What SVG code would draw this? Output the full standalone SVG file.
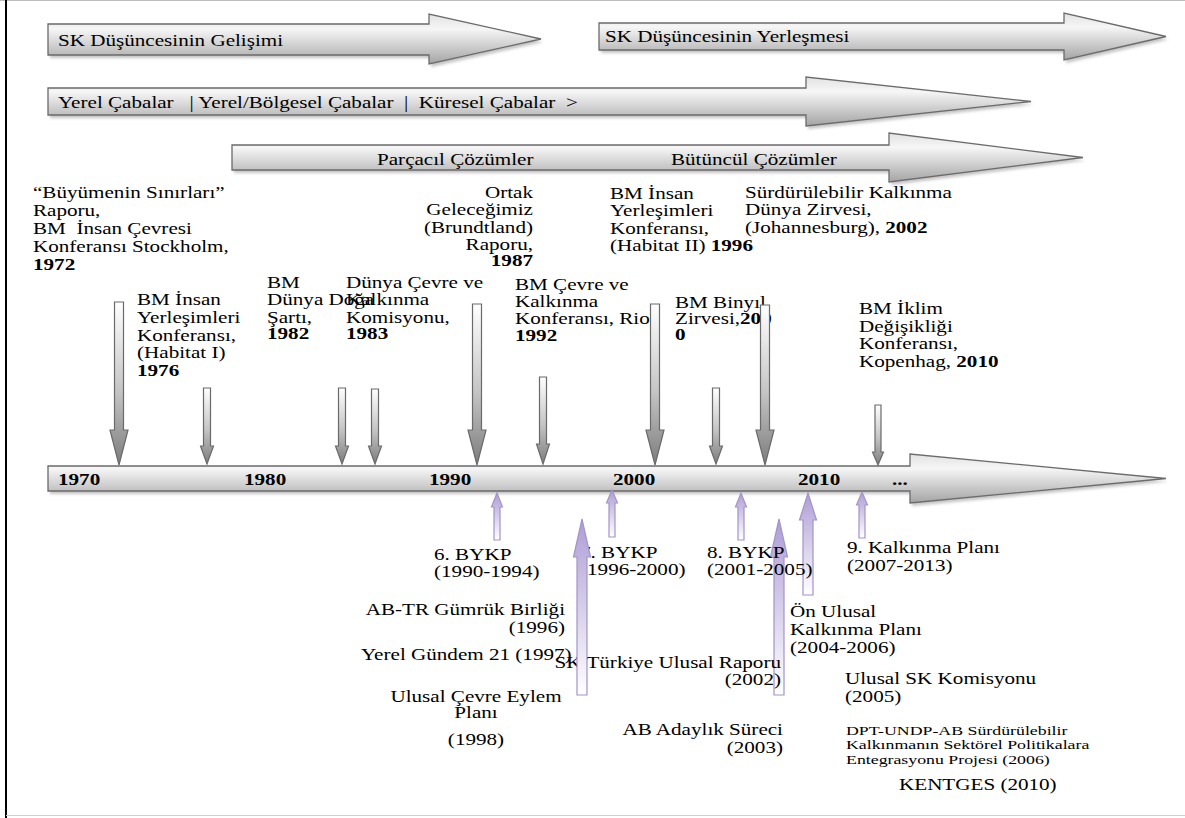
<svg xmlns="http://www.w3.org/2000/svg" width="1185" height="818" viewBox="0 0 1185 818">
<style>
.t{font-family:"Liberation Serif","Times New Roman",serif;font-size:16px;fill:#000}
.s{font-size:13.5px}
.b{font-weight:bold}
.band{fill:url(#gBand);stroke:#6b6b6b;stroke-width:1.3}
.shadow{fill:#7a7a7a;opacity:.45;filter:url(#blur)}
.down{fill:url(#gDown);stroke:#6a6a6a;stroke-width:1.2}
.up{fill:url(#gUp);stroke:#a394c8;stroke-width:1.2}
</style>
<defs>
<linearGradient id="gBand" x1="0" y1="0" x2="0" y2="1">
<stop offset="0" stop-color="#e2e2e2"/><stop offset="0.3" stop-color="#f6f6f6"/><stop offset="1" stop-color="#a4a4a4"/>
</linearGradient>
<linearGradient id="gDown" x1="0" y1="0" x2="0" y2="1">
<stop offset="0" stop-color="#ffffff"/><stop offset="0.55" stop-color="#c4c4c4"/><stop offset="1" stop-color="#7c7c7c"/>
</linearGradient>
<linearGradient id="gUp" x1="0" y1="0" x2="0" y2="1">
<stop offset="0" stop-color="#ae9dd5"/><stop offset="1" stop-color="#ffffff"/>
</linearGradient>
<filter id="blur" x="-5%" y="-30%" width="110%" height="160%"><feGaussianBlur stdDeviation="1.5"/></filter>
</defs>
<rect width="1185" height="818" fill="#fff"/>
<g id="frame">
<line x1="0" y1="0.5" x2="1185" y2="0.5" stroke="#bdbdbd" stroke-width="1"/>
<line x1="6" y1="0" x2="6" y2="818" stroke="#000" stroke-width="2"/>
<line x1="6" y1="815.5" x2="1185" y2="815.5" stroke="#d0d0d0" stroke-width="1"/>
</g>
<g id="band-gelisim">
<polygon class="shadow" transform="translate(2,3)" points="48,24 429,24 429,14 541,39 429,64 429,55 48,55"/>
<polygon class="band" points="48,24 429,24 429,14 541,39 429,64 429,55 48,55"/>
<text class="t" transform="translate(58,46) scale(1.32,1)">SK Düşüncesinin Gelişimi</text>
</g>
<g id="band-yerlesme">
<polygon class="shadow" transform="translate(2,3)" points="599,23 1064,23 1064,13 1166,36.5 1064,60 1064,50 599,50"/>
<polygon class="band" points="599,23 1064,23 1064,13 1166,36.5 1064,60 1064,50 599,50"/>
<text class="t" transform="translate(605,42) scale(1.32,1)">SK Düşüncesinin Yerleşmesi</text>
</g>
<g id="band-cabalar">
<polygon class="shadow" transform="translate(2,3)" points="48,88 806,88 806,77 1031,101.5 806,126 806,115 48,115"/>
<polygon class="band" points="48,88 806,88 806,77 1031,101.5 806,126 806,115 48,115"/>
<text class="t" xml:space="preserve" transform="translate(58,108) scale(1.32,1)">Yerel Çabalar   | Yerel/Bölgesel Çabalar  |  Küresel Çabalar  &gt;</text>
</g>
<g id="band-cozumler">
<polygon class="shadow" transform="translate(2,3)" points="232,145 889,145 889,133 1083,157.5 889,182 889,170 232,170"/>
<polygon class="band" points="232,145 889,145 889,133 1083,157.5 889,182 889,170 232,170"/>
<text class="t" transform="translate(377,165) scale(1.32,1)">Parçacıl Çözümler</text>
<text class="t" transform="translate(671,165) scale(1.32,1)">Bütüncül Çözümler</text>
</g>
<g id="timeline">
<polygon class="shadow" transform="translate(2,3)" points="48,466 910,466 910,454 1166,478.5 910,503 910,491 48,491"/>
<polygon class="band" points="48,466 910,466 910,454 1166,478.5 910,503 910,491 48,491"/>
<g class="t b">
<text transform="translate(58,485) scale(1.32,1)">1970</text>
<text transform="translate(244,485) scale(1.32,1)">1980</text>
<text transform="translate(429,485) scale(1.32,1)">1990</text>
<text transform="translate(613,485) scale(1.32,1)">2000</text>
<text transform="translate(798,485) scale(1.32,1)">2010</text>
<text transform="translate(892,485) scale(1.32,1)">...</text>
</g>
</g>
<g id="connectors-under">
<polygon class="up" points="779,519 787.5,557 784,557 784,695 774,695 774,557 770.5,557"/>
<polygon class="up" points="808,493 816.5,520 813,520 813,595 803,595 803,520 799.5,520"/>
</g>
<g id="labels-world">
<text class="t" xml:space="preserve" transform="translate(33,198) scale(1.32,1)"><tspan x="0" y="0">“Büyümenin Sınırları”</tspan><tspan x="0" y="17.9">Raporu,</tspan><tspan x="0" y="35.8">BM  İnsan Çevresi</tspan><tspan x="0" y="53.7">Konferansı Stockholm,</tspan><tspan x="0" y="71.6" class="b">1972</tspan></text>
<text class="t" transform="translate(137,305) scale(1.32,1)"><tspan x="0" y="0">BM İnsan</tspan><tspan x="0" y="17.8">Yerleşimleri</tspan><tspan x="0" y="35.6">Konferansı,</tspan><tspan x="0" y="53.4">(Habitat I)</tspan><tspan x="0" y="71.2" class="b">1976</tspan></text>
<text class="t" transform="translate(267,288) scale(1.32,1)"><tspan x="0" y="0">BM</tspan><tspan x="0" y="17.5">Dünya Doğa</tspan><tspan x="0" y="35">Şartı,</tspan><tspan x="0" y="51.5" class="b">1982</tspan></text>
<text class="t" transform="translate(346,288) scale(1.32,1)"><tspan x="0" y="0">Dünya Çevre ve</tspan><tspan x="0" y="17.5">Kalkınma</tspan><tspan x="0" y="35">Komisyonu,</tspan><tspan x="0" y="51.5" class="b">1983</tspan></text>
<text class="t" text-anchor="end" transform="translate(533,198) scale(1.32,1)"><tspan x="0" y="0">Ortak</tspan><tspan x="0" y="17.5">Geleceğimiz</tspan><tspan x="0" y="35">(Brundtland)</tspan><tspan x="0" y="52.5">Raporu,</tspan><tspan x="0" y="68.5" class="b">1987</tspan></text>
<text class="t" transform="translate(610,199) scale(1.32,1)"><tspan x="0" y="0">BM İnsan</tspan><tspan x="0" y="17.3">Yerleşimleri</tspan><tspan x="0" y="34.6">Konferansı,</tspan><tspan x="0" y="51.9">(Habitat II) <tspan class="b">1996</tspan></tspan></text>
<text class="t" transform="translate(745,198) scale(1.32,1)"><tspan x="0" y="0">Sürdürülebilir Kalkınma</tspan><tspan x="0" y="17.5">Dünya Zirvesi,</tspan><tspan x="0" y="35">(Johannesburg), <tspan class="b">2002</tspan></tspan></text>
<text class="t" transform="translate(515,290) scale(1.32,1)"><tspan x="0" y="0">BM Çevre ve</tspan><tspan x="0" y="17">Kalkınma</tspan><tspan x="0" y="34">Konferansı, Rio,</tspan><tspan x="0" y="51" class="b">1992</tspan></text>
<text class="t" transform="translate(675,308) scale(1.32,1)"><tspan x="0" y="0">BM Binyıl</tspan><tspan x="0" y="16">Zirvesi,<tspan class="b">200</tspan></tspan><tspan x="0" y="32.5" class="b">0</tspan></text>
<text class="t" transform="translate(859,314) scale(1.32,1)"><tspan x="0" y="0">BM İklim</tspan><tspan x="0" y="17.6">Değişikliği</tspan><tspan x="0" y="35.2">Konferansı,</tspan><tspan x="0" y="52.8">Kopenhag, <tspan class="b">2010</tspan></tspan></text>
</g>
<g id="labels-turkey">
<text class="t" transform="translate(434,560) scale(1.32,1)"><tspan x="0" y="0">6. BYKP</tspan><tspan x="0" y="17">(1990-1994)</tspan></text>
<text class="t" transform="translate(580,558) scale(1.32,1)"><tspan x="0" y="0">7. BYKP</tspan><tspan x="0" y="17">(1996-2000)</tspan></text>
<text class="t" transform="translate(707,558) scale(1.32,1)"><tspan x="0" y="0">8. BYKP</tspan><tspan x="0" y="17">(2001-2005)</tspan></text>
<text class="t" transform="translate(847,553) scale(1.32,1)"><tspan x="0" y="0">9. Kalkınma Planı</tspan><tspan x="0" y="18">(2007-2013)</tspan></text>
<text class="t" text-anchor="end" transform="translate(565,615) scale(1.32,1)"><tspan x="0" y="0">AB-TR Gümrük Birliği</tspan><tspan x="0" y="18">(1996)</tspan></text>
<text class="t" transform="translate(361,660) scale(1.32,1)">Yerel Gündem 21 (1997)</text>
<text class="t" text-anchor="middle" transform="translate(476,702) scale(1.32,1)"><tspan x="0" y="0">Ulusal Çevre Eylem</tspan><tspan x="0" y="16.5">Planı</tspan><tspan x="0" y="43">(1998)</tspan></text>
<text class="t" text-anchor="end" transform="translate(781,668) scale(1.32,1)"><tspan x="0" y="0">SK Türkiye Ulusal Raporu</tspan><tspan x="0" y="17">(2002)</tspan></text>
<text class="t" text-anchor="end" transform="translate(783,735) scale(1.32,1)"><tspan x="0" y="0">AB Adaylık Süreci</tspan><tspan x="0" y="18">(2003)</tspan></text>
<text class="t" transform="translate(790,617) scale(1.32,1)"><tspan x="0" y="0">Ön Ulusal</tspan><tspan x="0" y="18">Kalkınma Planı</tspan><tspan x="0" y="36">(2004-2006)</tspan></text>
<text class="t" transform="translate(845,684) scale(1.32,1)"><tspan x="0" y="0">Ulusal SK Komisyonu</tspan><tspan x="0" y="18">(2005)</tspan></text>
<text class="t s" transform="translate(846,735) scale(1.32,1)"><tspan x="0" y="0">DPT-UNDP-AB Sürdürülebilir</tspan><tspan x="0" y="14.5">Kalkınmanın Sektörel Politikalara</tspan><tspan x="0" y="29">Entegrasyonu Projesi (2006)</tspan></text>
<text class="t" transform="translate(899,790) scale(1.32,1)">KENTGES (2010)</text>
</g>
<g id="connectors">
<g id="down-arrows">
<polygon class="down" points="114.5,302 123.5,302 123.5,430 128,430 119,465 110,430 114.5,430"/>
<polygon class="down" points="472.5,304 481.5,304 481.5,430 486,430 477,465 468,430 472.5,430"/>
<polygon class="down" points="650.5,304 659.5,304 659.5,430 664,430 655,465 646,430 650.5,430"/>
<polygon class="down" points="760.5,305 769.5,305 769.5,430 774,430 765,465 756,430 760.5,430"/>
<polygon class="down" points="203.5,388 210.5,388 210.5,446 213.5,446 207,464 200.5,446 203.5,446"/>
<polygon class="down" points="338.5,388 345.5,388 345.5,446 348.5,446 342,464 335.5,446 338.5,446"/>
<polygon class="down" points="371.5,389 378.5,389 378.5,446 381.5,446 375,464 368.5,446 371.5,446"/>
<polygon class="down" points="539.5,377 546.5,377 546.5,444 549.5,444 543,464 536.5,444 539.5,444"/>
<polygon class="down" points="712.5,388 719.5,388 719.5,446 722.5,446 716,464 709.5,446 712.5,446"/>
<polygon class="down" points="875,405 881,405 881,452 883.5,452 878,465 872.5,452 875,452"/>
</g>
<g id="up-arrows">
<polygon class="up" points="497,493 502.5,507 500,507 500,540 494,540 494,507 491.5,507"/>
<polygon class="up" points="612,490 617.5,503 615,503 615,537 609,537 609,503 606.5,503"/>
<polygon class="up" points="741,493 746.5,507 744,507 744,540 738,540 738,507 735.5,507"/>
<polygon class="up" points="862,492 867.5,505 865,505 865,538 859,538 859,505 856.5,505"/>
<polygon class="up" points="582,519 590.5,557 587,557 587,695 577,695 577,557 573.5,557"/>
</g>
</g>
</svg>
